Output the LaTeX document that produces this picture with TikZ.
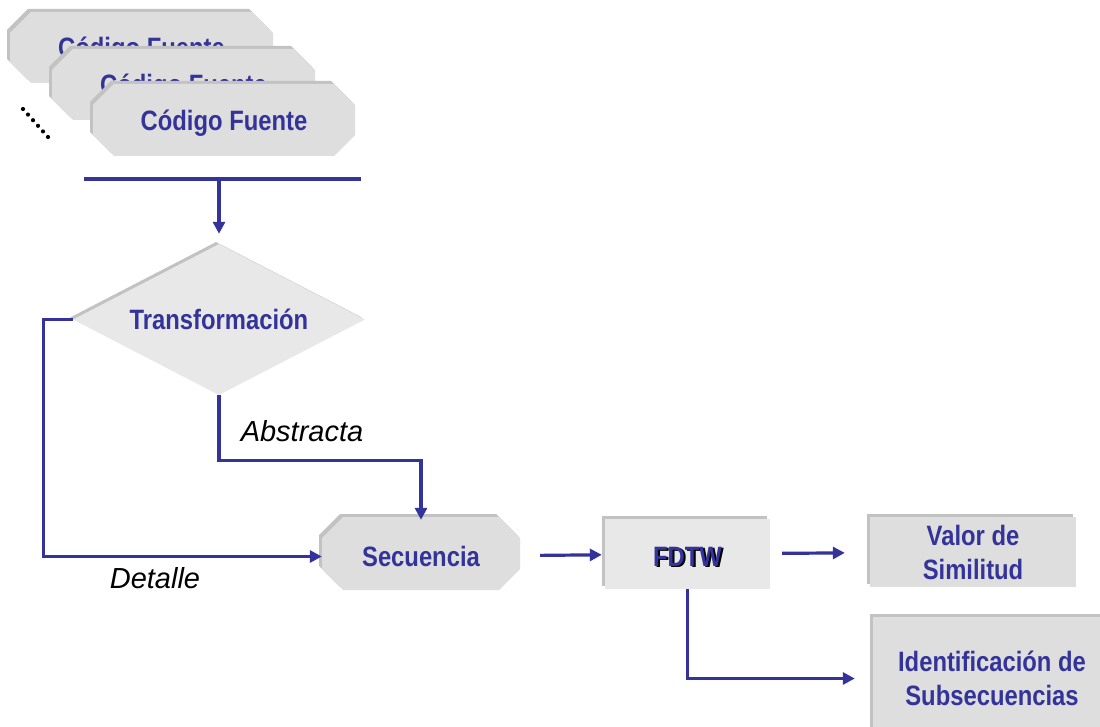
\documentclass[tikz,border=0pt]{standalone}
\usepackage{fontspec}
\setmainfont{Liberation Sans}
\newfontfamily\narrowfont{Liberation Sans}[FakeStretch=0.85]
\usetikzlibrary{arrows.meta,calc,shapes.geometric}

\definecolor{ink}{HTML}{333399}
\definecolor{shadegray}{HTML}{C2C2C2}
\definecolor{boxgray}{HTML}{DEDEDE}
\definecolor{lightgray}{HTML}{E8E8E8}

\tikzset{
  lbl/.style={font=\narrowfont\bfseries\fontsize{28}{34}\selectfont, text=ink, align=center, inner sep=0pt},
  note/.style={font=\itshape\fontsize{29}{34}\selectfont, text=black, inner sep=0pt},
  flow/.style={draw=ink, line width=3.2pt},
  arr/.style={flow, -{Triangle[length=12pt,width=12pt]}},
  decision/.style={diamond, aspect=1.93, minimum width=292, minimum height=151, inner sep=0pt},
}

% chamfered box: name, centre x, centre y, half width, half height, fill, text
\newcommand\chambox[7]{%
  \begin{scope}[shift={(#2,#3)}]
    \fill[shadegray] ({-#4+21-3},{-#5-3}) -- ({#4-21-3},{-#5-3}) -- ({#4-3},{-#5+21-3})
      -- ({#4-3},{#5-21-3}) -- ({#4-21-3},{#5-3}) -- ({-#4+21-3},{#5-3})
      -- ({-#4-3},{#5-21-3}) -- ({-#4-3},{-#5+21-3}) -- cycle;
    \fill[#6] ({-#4+21},{-#5}) -- ({#4-21},{-#5}) -- ({#4},{-#5+21})
      -- ({#4},{#5-21}) -- ({#4-21},{#5}) -- ({-#4+21},{#5})
      -- ({-#4},{#5-21}) -- ({-#4},{-#5+21}) -- cycle;
  \end{scope}
  \node[lbl, minimum width=2*#4, minimum height=2*#5] (#1) at (#2,{#3+3}) {#7};
}

% rectangular box with shaded top and left edges
\newcommand\rectbox[7]{%
  \fill[shadegray] ({#2-#4-3},{#3-#5-3}) rectangle ({#2+#4-3},{#3+#5-3});
  \fill[#6] ({#2-#4},{#3-#5}) rectangle ({#2+#4},{#3+#5});
  \node[lbl, minimum width=2*#4, minimum height=2*#5] (#1) at (#2,#3) {#7};
}

\begin{document}
\begin{tikzpicture}[x=1pt,y=-1pt]
\useasboundingbox (0,0) rectangle (1100,727);
\fill[white] (0,0) rectangle (1100,727);

% stacked source code boxes
\chambox{src1}{141.5}{47.5}{131.5}{35.5}{boxgray}{Código Fuente}
\chambox{src2}{183.5}{84.5}{131.5}{35.5}{boxgray}{Código Fuente}
\chambox{src3}{224}{120}{131}{36}{boxgray}{Código Fuente}

% ellipsis dots
\foreach \i in {0,...,5}
  \fill ({23+5*\i},{109+5.6*\i}) circle (2.1);

% collecting bar
\coordinate (barL) at (84,179);
\coordinate (barR) at (361,179);
\coordinate (barM) at (219,179);
\draw[flow] (barL) -- (barR);

% decision diamond
\node[decision, fill=shadegray] at (216,317.5) {};
\node[decision, fill=lightgray, lbl] (tr) at (219,319.5) {Transformación};

\draw[arr, shorten >=10pt] (barM) -- (barM |- tr.north);

% sequence box
\chambox{sec}{421}{553.5}{99}{36.5}{boxgray}{Secuencia}

% FDTW box with shadowed label
\rectbox{fdtw}{687.5}{554}{82.5}{35}{lightgray}{}
\node[lbl, text=black] at (689.5,558) {FDTW};
\node[lbl] (fdtwtxt) at (687.5,556.5) {FDTW};

% results
\rectbox{val}{973}{552}{103}{35}{boxgray}{Valor de\\Similitud}
\rectbox{idbox}{993}{678.5}{120}{61.5}{boxgray}{}
\node[lbl] (idtxt) at (992,678) {Identificación de\\Subsecuencias};

% connectors
\draw[arr] (tr.south) -- ++(0,65) -| (sec.north);
\node[note] (abs) at (302,431) {Abstracta};
\draw[arr] (tr.west) -- ++(-29,0) |- (sec.west);
\node[note] (det) at (155,578) {Detalle};

\draw[arr, shorten <=20pt, shorten >=3pt] (sec) -- (fdtw);
\draw[arr, shorten <=12pt, shorten >=25pt] (fdtw) -- (val);
\draw[arr, shorten >=18pt] (fdtw.south) |- (idbox.west);
\end{tikzpicture}
\end{document}
